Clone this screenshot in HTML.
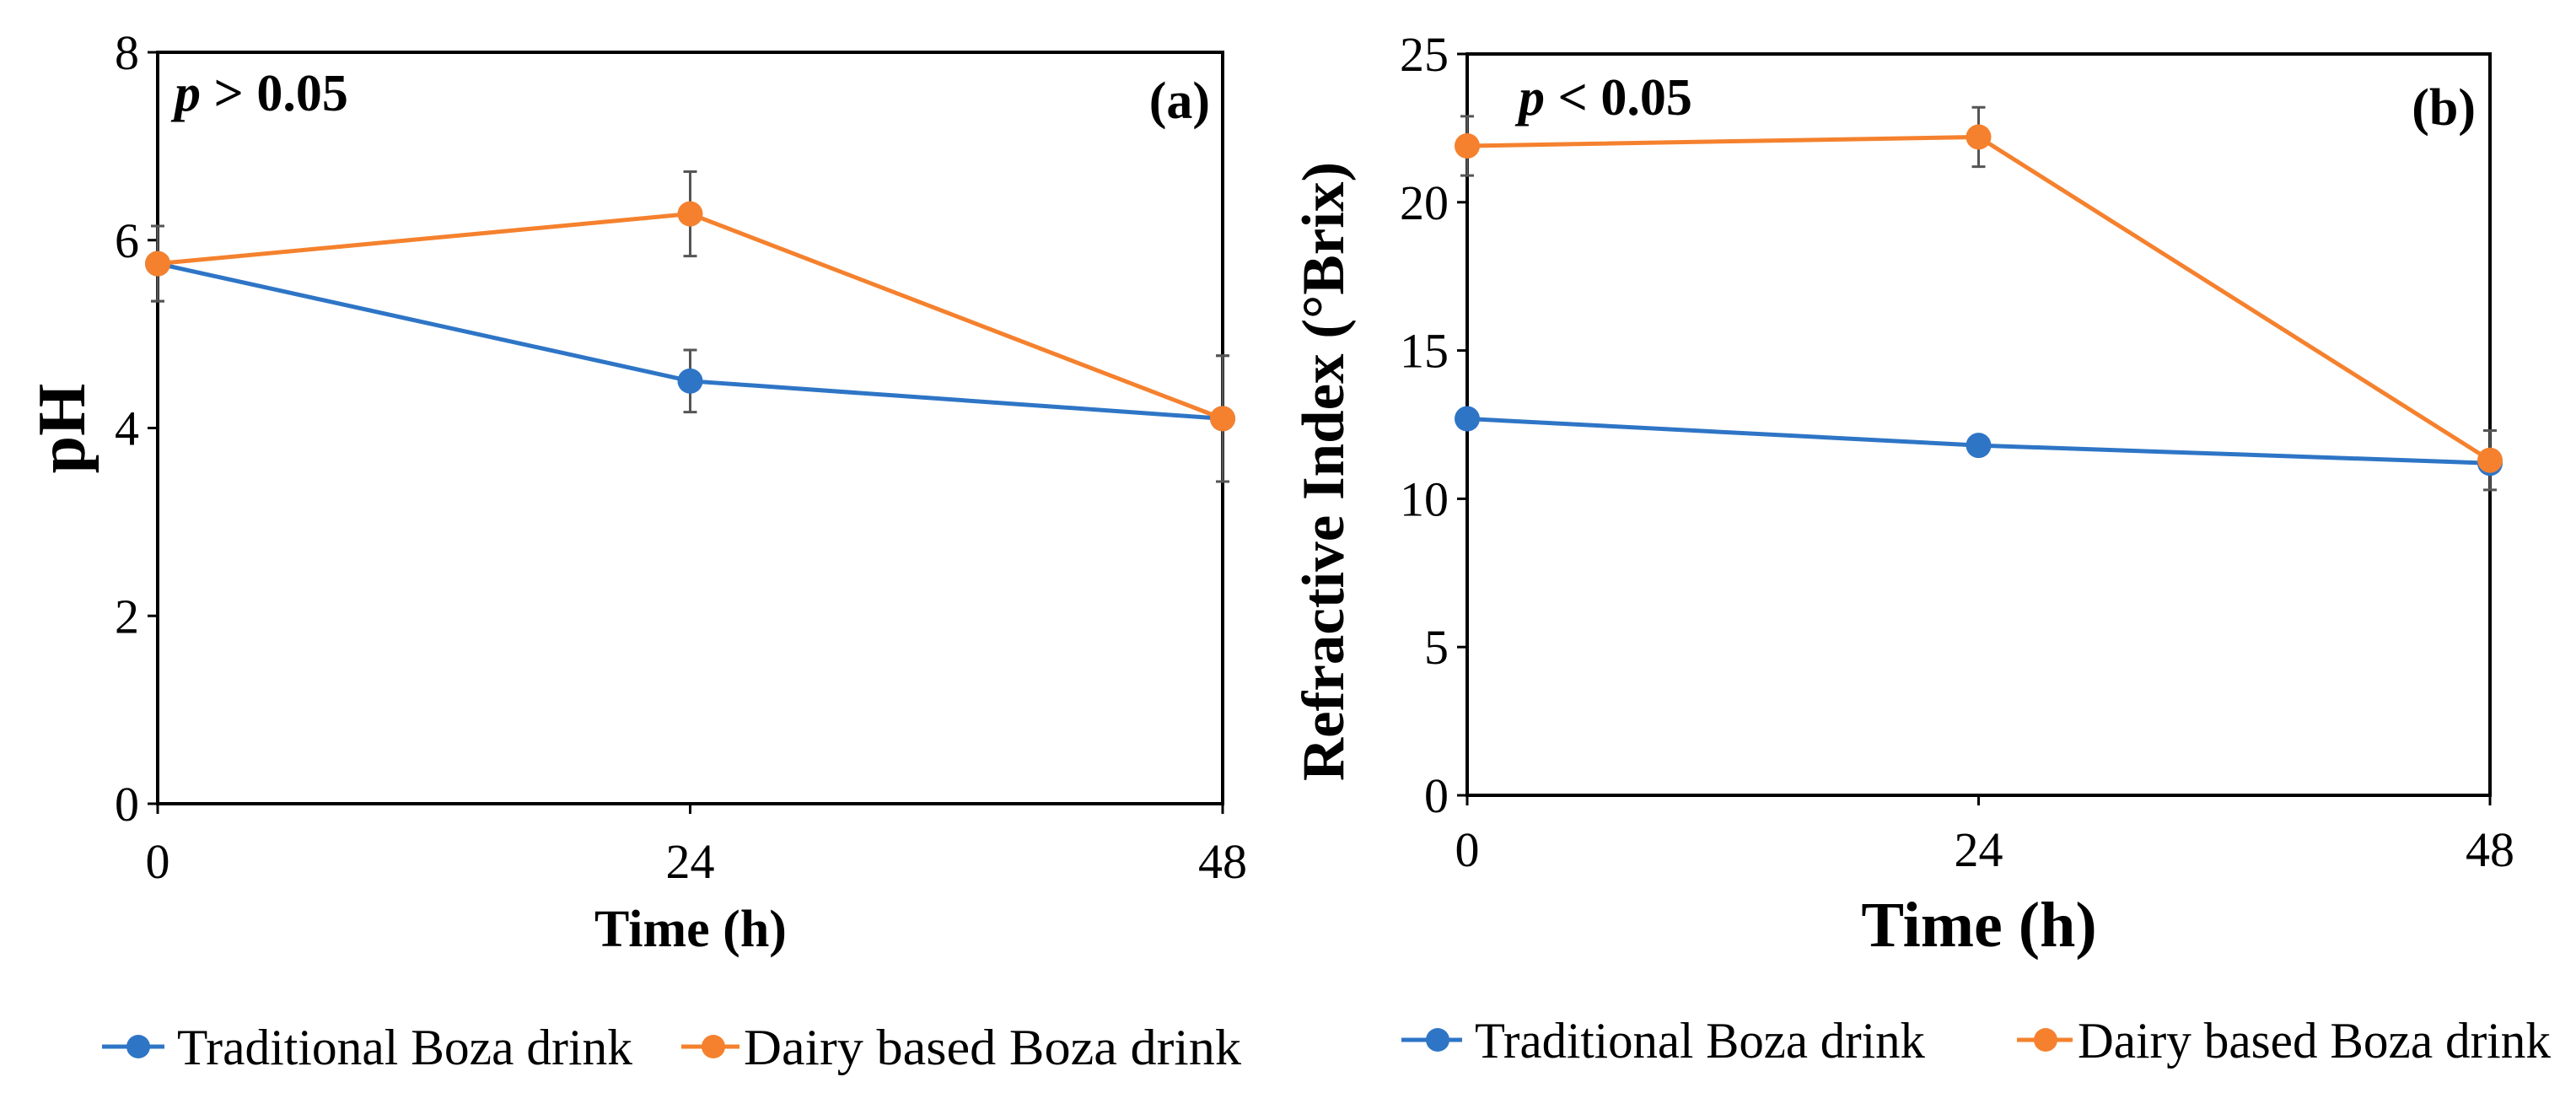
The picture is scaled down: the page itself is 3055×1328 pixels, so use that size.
<!DOCTYPE html>
<html><head><meta charset="utf-8"><style>
html,body{margin:0;padding:0;background:#fff;overflow:hidden}
svg{display:block;font-family:"Liberation Serif",serif}
</style></head><body>
<svg id="c" width="3055" height="1328" viewBox="0 0 3055 1328" xmlns="http://www.w3.org/2000/svg"></svg>
<script>
const times=[0,24,48];
const phTrad=[5.75,4.5,4.1];
const phDairy=[5.75,6.28,4.1];
const phTradErr=[0.4,0.33,0.67];
const phDairyErr=[0.4,0.45,0.67];
const brixTrad=[12.7,11.8,11.2];
const brixDairy=[21.9,22.2,11.3];
const brixTradErr=[0,0,0];
const brixDairyErr=[1,1,1];
const phTicks=[0,2,4,6,8];
const brixTicks=[0,5,10,15,20,25];
const xTicks=[0,24,48];
const BLUE="#2e75c6",ORANGE="#f5812e";
const svg=document.getElementById('c');
const NS="http://www.w3.org/2000/svg";
function mk(tag,attrs,parent,text){const e=document.createElementNS(NS,tag);for(const k in attrs)e.setAttribute(k,attrs[k]);if(text!==undefined)e.textContent=text;(parent||svg).appendChild(e);return e;}

function panel(cfg){
  const g=mk('g',{});
  
  
  const sx=v=>cfg.x0+(v-0)/(48-0)*(cfg.x1-cfg.x0);
  const sy=v=>cfg.y0-(v-0)/(cfg.ymax-0)*(cfg.y0-cfg.y1);
  const frame=mk('rect',{x:cfg.x0,y:cfg.y1,width:cfg.x1-cfg.x0,height:cfg.y0-cfg.y1,fill:'none',stroke:'#000','stroke-width':4},g);
  
  
  cfg.yTicks.forEach(t=>{
    const tk=mk('line',{x1:cfg.x0-12,x2:cfg.x0,y1:sy(t),y2:sy(t),stroke:'#000','stroke-width':3},g);
    
    
    const lb=mk('text',{x:cfg.x0-22,y:sy(t)+20,'text-anchor':'end','font-size':58},g,String(t));
    
    
  });
  xTicks.forEach(t=>{
    const tk=mk('line',{x1:sx(t),x2:sx(t),y1:cfg.y0,y2:cfg.y0+12,stroke:'#000','stroke-width':3},g);
    
    
    const lb=mk('text',{x:sx(t),y:cfg.y0+cfg.xlabOff,'text-anchor':'middle','font-size':58},g,String(t));
    
    
  });
  [[cfg.trad,cfg.tradErr,'traditional'],[cfg.dairy,cfg.dairyErr,'dairy']].forEach(([vals,errs,nm])=>{
    vals.forEach((v,i)=>{
      if(errs[i]>0){
        const e=mk('path',{d:`M${sx(times[i])},${sy(v-errs[i])}V${sy(v+errs[i])}M${sx(times[i])-8},${sy(v-errs[i])}h16M${sx(times[i])-8},${sy(v+errs[i])}h16`,stroke:'#555','stroke-width':3,fill:'none'},g);
        
        
      }
    });
  });
  [[cfg.trad,BLUE,'traditional'],[cfg.dairy,ORANGE,'dairy']].forEach(([vals,col,nm])=>{
    const l=mk('polyline',{points:vals.map((v,i)=>sx(times[i])+','+sy(v)).join(' '),fill:'none',stroke:col,'stroke-width':5},g);
    
    
    vals.forEach((v,i)=>{
      const c=mk('circle',{cx:sx(times[i]),cy:sy(v),r:15,fill:col},g);
      
      
    });
  });
}
panel({name:'ph-chart',x0:187,x1:1450,y1:62,y0:953,ymax:8,xlabOff:88,yTicks:phTicks,trad:phTrad,dairy:phDairy,tradErr:phTradErr,dairyErr:phDairyErr});
panel({name:'brix-chart',x0:1740,x1:2953,y1:64,y0:943,ymax:25,xlabOff:84,yTicks:brixTicks,trad:brixTrad,dairy:brixDairy,tradErr:brixTradErr,dairyErr:brixDairyErr});
</script>
<script>
(function(){
const svg=document.getElementById('c');const NS="http://www.w3.org/2000/svg";
function t(name,attrs,html){const e=document.createElementNS(NS,'text');for(const k in attrs)e.setAttribute(k,attrs[k]);e.innerHTML=html;


svg.appendChild(e);}
t('y-axis-title-ph',{x:0,y:0,transform:'translate(100,508) rotate(-90)','text-anchor':'middle','font-size':80,'font-weight':'bold'},'pH');
t('x-axis-title-a',{x:819,y:1122,'text-anchor':'middle','font-size':62,'font-weight':'bold'},'Time (h)');
t('p-value-a',{x:207,y:131,'font-size':62,'font-weight':'bold'},'<tspan font-style="italic">p</tspan> &gt; 0.05');
t('panel-label-a',{x:1435,y:140,'text-anchor':'end','font-size':62,'font-weight':'bold'},'(a)');
t('y-axis-title-brix',{x:0,y:0,transform:'translate(1593,559) rotate(-90)','text-anchor':'middle','font-size':71,'font-weight':'bold'},'Refractive Index (°Brix)');
t('x-axis-title-b',{x:2347,y:1122,'text-anchor':'middle','font-size':76,'font-weight':'bold'},'Time (h)');
t('p-value-b',{x:1801,y:136,'font-size':62,'font-weight':'bold'},'<tspan font-style="italic">p</tspan> &lt; 0.05');
t('panel-label-b',{x:2936,y:148,'text-anchor':'end','font-size':62,'font-weight':'bold'},'(b)');
const legends=[[121,195,164,210,1241,'#2e75c6','Traditional Boza drink','legend-traditional-a',540],[808,877,846,882,1241,'#f5812e','Dairy based Boza drink','legend-dairy-a',590],
[1662,1734,1705,1749,1233,'#2e75c6','Traditional Boza drink','legend-traditional-b',534],[2392,2458,2426,2464,1233,'#f5812e','Dairy based Boza drink','legend-dairy-b',561]];
legends.forEach(([a,b,m,tx,y,col,label,name,len])=>{
  const g=document.createElementNS(NS,'g');
  
  
  g.innerHTML=`<line x1="${a}" x2="${b}" y1="${y}" y2="${y}" stroke="${col}" stroke-width="5"/><circle cx="${m}" cy="${y}" r="14" fill="${col}"/><text x="${tx}" y="${y+21}" font-size="60" textLength="${len}" lengthAdjust="spacingAndGlyphs">${label}</text>`;
  svg.appendChild(g);
});
})();
</script>
</body></html>
